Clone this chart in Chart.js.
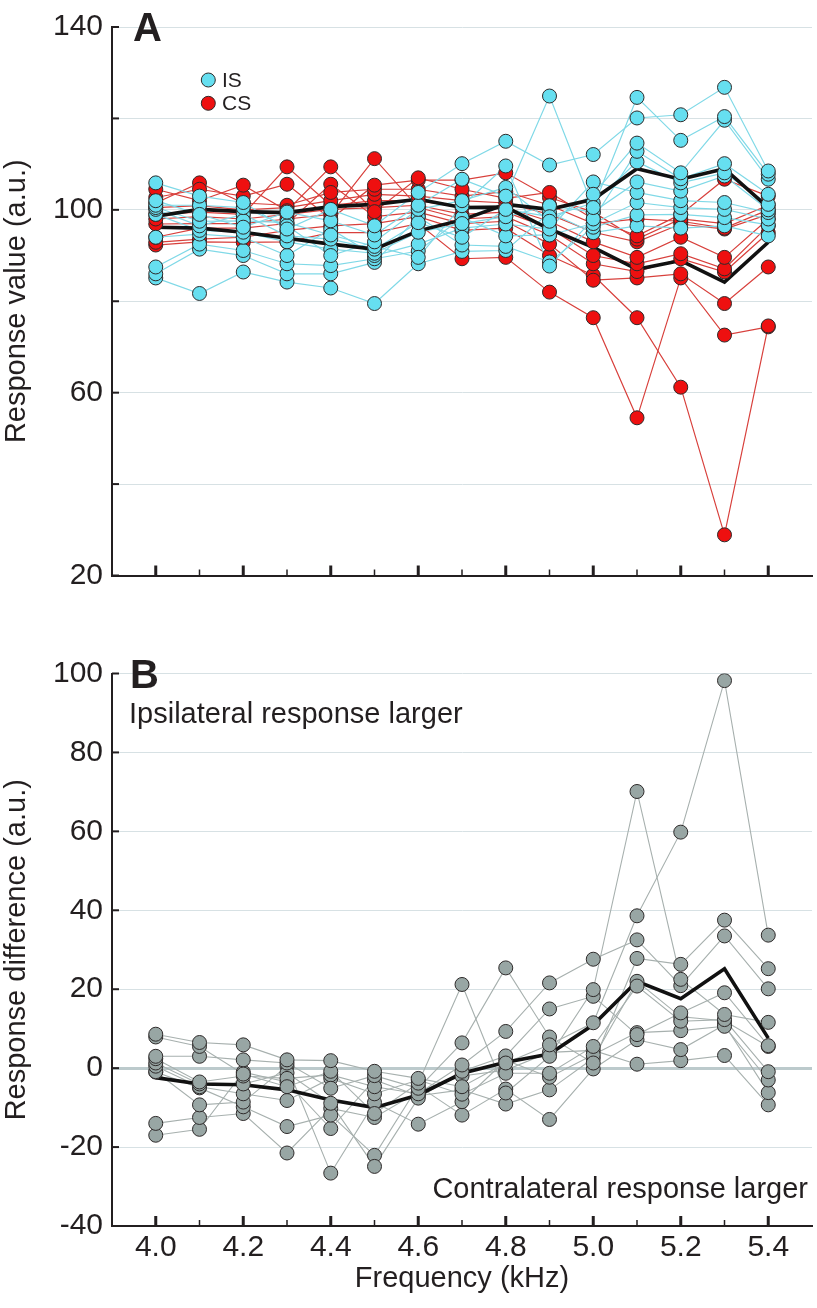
<!DOCTYPE html>
<html><head><meta charset="utf-8">
<script src="https://cdn.jsdelivr.net/npm/chart.js@4.4.1/dist/chart.umd.min.js"></script>
<style>
html,body{margin:0;padding:0;background:#fff;}
#wrap{position:relative;width:817px;height:1308px;overflow:hidden;}
canvas{position:absolute;left:0;}
</style></head><body>
<div id="wrap">
<canvas id="cA" width="817" height="620" style="top:0px;width:817px;height:620px"></canvas>
<canvas id="cB" width="817" height="688" style="top:620px;width:817px;height:688px"></canvas>
</div>
<script>
// ---------- DATA ----------
const freqs = [4.0,4.1,4.2,4.3,4.4,4.5,4.6,4.7,4.8,4.9,5.0,5.1,5.2,5.3,5.4];
const xTickLabels = ['4.0','4.2','4.4','4.6','4.8','5.0','5.2','5.4'];
const yTickLabelsA = [140,100,60,20];
const yTickLabelsB = [100,80,60,40,20,0,-20,-40];

// Panel A: ipsilateral stimulation (IS), per subject
const is01 = [105.9,103.0,101.6,95.8,100.1,96.5,103.8,110.1,115.0,109.8,112.1,120.1,120.8,126.8,108.5];
const is02 = [102.0,99.0,96.2,99.5,97.6,94.5,101.0,106.7,103.0,124.9,100.5,124.6,115.2,120.4,107.8];
const is03 = [101.0,101.0,100.5,96.5,90.0,93.0,100.1,102.0,104.9,97.5,103.4,114.6,108.1,119.6,106.7];
const is04 = [100.5,97.5,97.6,97.2,94.5,92.0,89.6,100.9,109.6,87.7,98.0,112.8,106.8,110.1,103.4];
const is05 = [100.1,96.5,99.0,94.3,93.6,91.4,97.2,94.0,100.1,98.5,101.5,110.5,105.9,108.1,101.2];
const is06 = [99.0,95.5,95.1,93.0,91.4,90.5,95.1,97.0,98.5,100.9,99.5,106.1,104.1,107.4,100.0];
const is07 = [94.0,94.7,94.0,90.0,95.8,90.0,92.5,96.0,96.9,95.8,106.1,103.8,102.0,101.6,99.4];
const is08 = [87.5,92.5,91.1,88.2,87.8,89.3,91.0,98.3,94.3,94.5,97.0,101.6,100.5,100.1,98.0];
const is09 = [86.0,91.4,90.0,86.0,86.0,88.5,98.5,92.3,92.0,88.6,96.2,98.9,99.0,98.3,96.7];
const is10 = [85.1,81.7,86.4,84.2,82.9,79.5,88.2,90.9,91.1,99.4,95.0,96.5,96.0,96.5,94.3];

// Panel A: contralateral stimulation (CS), per subject
const cs01 = [104.5,102.0,105.4,99.8,109.4,99.6,107.0,104.5,102.5,103.8,98.0,94.3,99.0,106.7,103.0];
const cs02 = [102.7,104.5,103.0,105.6,98.0,105.4,106.5,106.5,108.1,102.7,99.5,93.6,98.0,97.0,101.0];
const cs03 = [101.5,105.9,101.5,101.0,103.8,104.5,104.5,103.0,104.0,101.0,97.0,98.0,97.5,96.0,100.0];
const cs04 = [100.5,100.9,100.0,100.5,102.0,103.4,103.0,102.0,101.5,99.0,95.1,93.0,96.9,95.8,99.0];
const cs05 = [99.0,99.5,99.0,109.4,101.0,102.0,102.0,100.5,100.5,97.5,93.0,89.6,94.0,89.6,98.0];
const cs06 = [98.0,98.5,98.0,99.0,100.1,100.5,101.0,99.0,99.5,96.0,90.0,88.2,90.4,87.1,96.5];
const cs07 = [96.9,97.0,97.0,98.0,99.0,111.2,100.5,98.0,98.5,94.5,88.2,86.5,89.3,86.4,95.0];
const cs08 = [94.0,96.0,96.0,97.0,105.6,98.5,99.5,97.0,97.5,92.5,84.6,85.1,86.0,79.5,87.5];
const cs09 = [92.9,93.6,94.0,95.5,96.5,97.0,98.5,95.5,96.0,90.0,85.7,76.4,61.2,28.9,74.6];
const cs10 = [92.3,93.0,92.9,93.0,95.0,95.0,97.0,89.3,89.6,82.0,76.4,54.5,85.1,72.6,74.4];

const isMean = [96.2,96.0,95.1,93.8,92.5,91.4,95.4,97.8,101.2,100.1,102.3,109.0,106.7,109.0,100.5];
const csMean = [98.6,100.1,99.6,99.4,100.7,101.2,102.3,100.5,100.6,95.8,91.8,87.0,88.9,84.2,92.9];

// Panel B: response difference (IS - CS), per subject
const d01 = [8.6,6.5,5.9,2.1,1.9,-0.8,-2.6,-4.7,1.3,5.9,11.5,38.6,59.8,98.2,33.7];
const d02 = [7.9,5.5,-1.5,-4.7,-0.8,-11.5,-3.8,21.2,-6.3,3.0,19.9,70.1,22.5,13.6,11.6];
const d03 = [3.0,3.0,2.1,1.3,-5.1,-1.9,-5.1,6.4,25.4,7.9,1.3,27.8,26.3,37.5,25.2];
const d04 = [2.4,-3.5,-2.0,-2.6,-1.7,-4.7,-6.5,0.8,9.3,21.6,27.6,32.5,20.9,33.5,20.1];
const d05 = [1.3,-4.0,-4.0,-1.2,-8.9,-24.9,-7.6,-0.8,3.1,15.0,18.2,8.5,14.0,19.1,5.7];
const d06 = [0.5,-4.7,-6.5,-8.2,-2.6,-6.5,-3.0,-6.6,-1.3,-1.3,5.5,20.8,11.9,12.3,-0.9];
const d07 = [-0.9,-9.3,-8.6,0.5,-26.6,-8.7,-14.2,-8.5,2.0,-2.3,3.4,9.0,9.5,10.6,-3.0];
const d08 = [-1.0,-5.0,-9.8,-14.8,-11.9,-22.1,-4.5,-11.9,-5.3,-13.0,-0.2,7.2,4.7,11.0,-6.2];
const d09 = [-14.0,-12.5,-11.5,-21.5,-10.2,-12.5,-6.0,-2.0,-0.5,4.0,4.5,1.0,1.9,3.2,-9.3];
const d10 = [-17.0,-15.5,-1.0,-3.5,-15.3,-3.0,-7.0,-5.5,-9.1,-5.5,2.5,22.0,13.0,12.0,5.5];
const diffMean = [-2.4,-4.0,-4.2,-5.5,-8.1,-10.0,-6.8,-1.3,1.5,3.6,11.0,22.0,17.6,25.2,7.6];

const isSubjects = [is01,is02,is03,is04,is05,is06,is07,is08,is09,is10];
const csSubjects = [cs01,cs02,cs03,cs04,cs05,cs06,cs07,cs08,cs09,cs10];
const diffSubjects = [d01,d02,d03,d04,d05,d06,d07,d08,d09,d10];

// ---------- STYLE ----------
const FONT = '"Liberation Sans", Arial, Helvetica, sans-serif';
const INK = '#231f20';
const GRID = '#d7e1e4';
const IS_FILL = '#66dff0', IS_LINE = '#80d9e7';
const CS_FILL = '#ee1010', CS_LINE = '#d8403c';
const GR_FILL = '#98a6a4', GR_LINE = '#a7b0ae';
const MARK_EDGE = '#2e2a2a';

Chart.defaults.font.family = FONT;
Chart.defaults.color = INK;

const pts = arr => arr.map((v,i) => ({x: freqs[i], y: v}));
const lineDs = (arr, color, w, order) => ({data: pts(arr), borderColor: color, borderWidth: w, pointRadius: 0, pointHoverRadius: 0, fill: false, tension: 0, order});
const pointDs = (arr, fill, order) => ({data: pts(arr), showLine: false, pointRadius: 7, pointHoverRadius: 7, pointBorderWidth: 1, pointBackgroundColor: fill, pointBorderColor: MARK_EDGE, backgroundColor: fill, borderColor: MARK_EDGE, order});

function decorPlugin(kind){
  return {
    id: 'decor' + kind,
    afterDraw(chart){
      const ctx = chart.ctx, xs = chart.scales.x, ys = chart.scales.y;
      ctx.save();
      ctx.strokeStyle = INK;
      // inward x ticks
      freqs.forEach(f => {
        const k = Math.round(f*10);
        const px = xs.getPixelForValue(f);
        const major = k % 2 === 0;
        ctx.lineWidth = major ? 3 : 1.5;
        ctx.beginPath();
        ctx.moveTo(px, ys.bottom);
        ctx.lineTo(px, ys.bottom - (major ? 10 : 6));
        ctx.stroke();
      });
      // inward y ticks
      ys.ticks.forEach(t => {
        const py = ys.getPixelForValue(t.value);
        ctx.lineWidth = 2;
        ctx.beginPath();
        ctx.moveTo(xs.left, py);
        ctx.lineTo(xs.left + 7, py);
        ctx.stroke();
      });
      ctx.fillStyle = INK;
      ctx.textBaseline = 'alphabetic';
      if (kind === 'A') {
        ctx.font = 'bold 40px ' + FONT;
        ctx.textAlign = 'left';
        ctx.fillText('A', 133, 41);
        // legend
        const items = [['IS', IS_FILL, 80], ['CS', CS_FILL, 103.3]];
        items.forEach(([lab, fill, y]) => {
          ctx.beginPath();
          ctx.arc(208.3, y, 7, 0, Math.PI*2);
          ctx.fillStyle = fill; ctx.fill();
          ctx.lineWidth = 1; ctx.strokeStyle = MARK_EDGE; ctx.stroke();
          ctx.fillStyle = INK;
          ctx.font = '21px ' + FONT;
          ctx.textBaseline = 'middle';
          ctx.fillText(lab, 222, y + 1);
        });
      } else {
        ctx.font = 'bold 40px ' + FONT;
        ctx.textAlign = 'left';
        ctx.fillText('B', 130, 68.3);
        ctx.font = '29px ' + FONT;
        ctx.fillText('Ipsilateral response larger', 129, 103.3);
        ctx.textAlign = 'right';
        ctx.fillText('Contralateral response larger', 808, 578);
      }
      ctx.restore();
    }
  };
}

const xCommon = (showLabels) => ({
  type: 'linear', min: 3.9, max: 5.5,
  grid: {display: false},
  border: {display: true, color: INK, width: 2},
  ticks: {
    display: showLabels, stepSize: 0.1, autoSkip: false, maxRotation: 0, minRotation: 0, padding: -4,
    font: {size: 30}, color: INK,
    callback: v => { const k = Math.round(v*10); const s = (k/10).toFixed(1); return xTickLabels.includes(s) ? s : ''; }
  }
});

// ---------- CHART A ----------
const dsA = [];
csSubjects.forEach(s => dsA.push(lineDs(s, CS_LINE, 1.2, 5)));
isSubjects.forEach(s => dsA.push(lineDs(s, IS_LINE, 1.2, 4)));
dsA.push(lineDs(isMean, '#111', 3.6, 3));
dsA.push(lineDs(csMean, '#111', 3.6, 3));
csSubjects.forEach(s => dsA.push(pointDs(s, CS_FILL, 2)));
isSubjects.forEach(s => dsA.push(pointDs(s, IS_FILL, 1)));

new Chart(document.getElementById('cA'), {
  type: 'line',
  data: {datasets: dsA},
  options: {
    responsive: false, animation: false, devicePixelRatio: 1,
    layout: {autoPadding: false, padding: {left: 0, right: 5, top: 23, bottom: 44.5}},
    plugins: {legend: {display: false}, tooltip: {enabled: false}},
    events: [],
    scales: {
      x: Object.assign(xCommon(false), {afterFit: s => { s.height = 0; }}),
      y: {
        min: 20, max: 140,
        grid: {drawTicks: false, color: c => (c.tick && c.tick.value === 20) ? 'rgba(0,0,0,0)' : GRID, lineWidth: 1},
        border: {display: true, color: INK, width: 2},
        ticks: {stepSize: 20, padding: 9, font: {size: 30}, color: INK,
          callback: v => yTickLabelsA.includes(v) ? String(v) : ''},
        title: {display: true, text: 'Response value (a.u.)', font: {size: 29}, color: INK, padding: {top: 0, bottom: 0}},
        afterFit: s => { s.width = 112; }
      }
    }
  },
  plugins: [decorPlugin('A')]
});

// ---------- CHART B ----------
const dsB = [];
diffSubjects.forEach(s => dsB.push(lineDs(s, GR_LINE, 1.1, 4)));
dsB.push(lineDs(diffMean, '#111', 3.6, 3));
diffSubjects.forEach(s => dsB.push(pointDs(s, GR_FILL, 1)));

new Chart(document.getElementById('cB'), {
  type: 'line',
  data: {datasets: dsB},
  options: {
    responsive: false, animation: false, devicePixelRatio: 1,
    layout: {autoPadding: false, padding: {left: 0, right: 5, top: 53.5, bottom: 0}},
    plugins: {legend: {display: false}, tooltip: {enabled: false}},
    events: [],
    scales: {
      x: Object.assign(xCommon(true), {
        title: {display: true, text: 'Frequency (kHz)', font: {size: 29}, color: INK, padding: {top: 0, bottom: 12}},
        afterFit: s => { s.height = 82; }
      }),
      y: {
        min: -40, max: 100,
        grid: {drawTicks: false,
          color: c => { const v = c.tick && c.tick.value; return v === -40 ? 'rgba(0,0,0,0)' : (v === 0 ? '#bccacc' : GRID); },
          lineWidth: c => (c.tick && c.tick.value === 0) ? 3 : 1},
        border: {display: true, color: INK, width: 2},
        ticks: {stepSize: 20, padding: 9, font: {size: 30}, color: INK,
          callback: v => yTickLabelsB.includes(v) ? String(v) : ''},
        title: {display: true, text: 'Response difference (a.u.)', font: {size: 29}, color: INK, padding: {top: 0, bottom: 0}},
        afterFit: s => { s.width = 112; }
      }
    }
  },
  plugins: [decorPlugin('B')]
});
</script>
</body></html>
